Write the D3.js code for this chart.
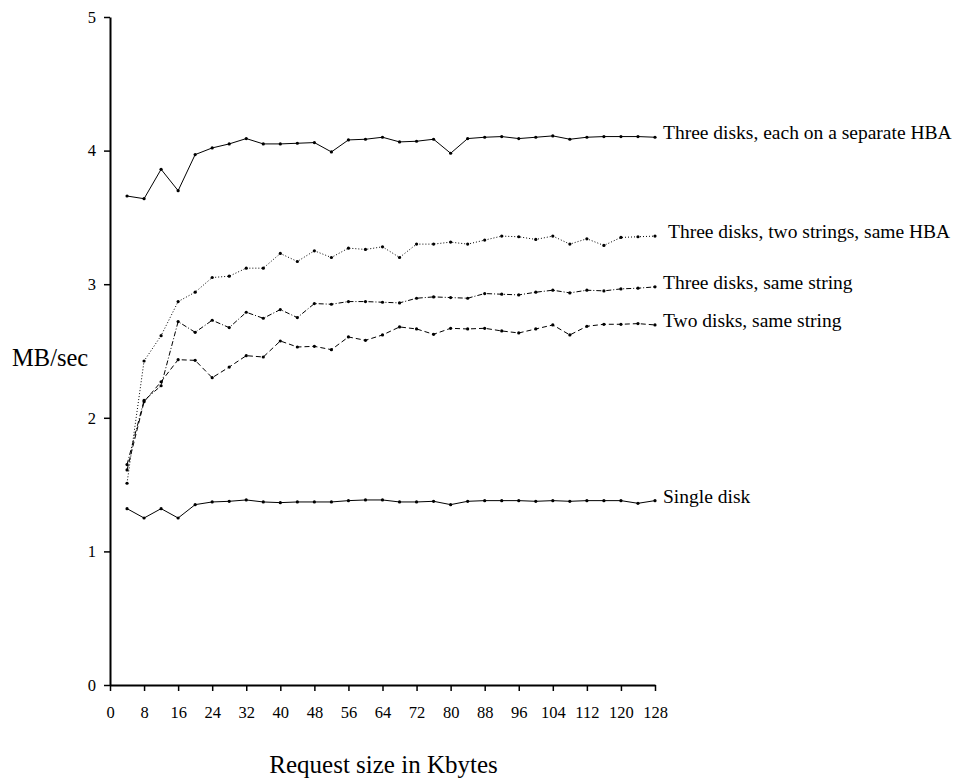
<!DOCTYPE html>
<html>
<head>
<meta charset="utf-8">
<script src="https://cdn.jsdelivr.net/npm/d3@7"></script>
<style>
  body { margin: 0; background: #fff; }
  svg text { font-family: "Liberation Serif", "Times New Roman", serif; fill: #000; }
</style>
</head>
<body>
<div class="chart"></div>
<script>
// Data
const requestSizes = [4, 8, 12, 16, 20, 24, 28, 32, 36, 40, 44, 48, 52, 56, 60, 64,
    68, 72, 76, 80, 84, 88, 92, 96, 100, 104, 108, 112, 116, 120, 124, 128];

const threeSeparateHba = [3.66, 3.64, 3.86, 3.70, 3.97, 4.02, 4.05, 4.09, 4.05, 4.05, 4.055, 4.06,
    3.99, 4.08, 4.085, 4.10, 4.065, 4.07, 4.085, 3.98, 4.09, 4.10, 4.105, 4.09, 4.10, 4.11,
    4.085, 4.10, 4.105, 4.105, 4.105, 4.10];

const threeTwoStrings = [1.51, 2.425, 2.615, 2.87, 2.94, 3.05, 3.06, 3.12, 3.12, 3.23, 3.17, 3.25,
    3.20, 3.27, 3.26, 3.28, 3.20, 3.30, 3.30, 3.315, 3.30, 3.33, 3.36, 3.355, 3.335, 3.36,
    3.30, 3.34, 3.29, 3.35, 3.355, 3.36];

const threeSameString = [1.65, 2.13, 2.24, 2.72, 2.64, 2.73, 2.675, 2.79, 2.745, 2.81, 2.75, 2.855,
    2.85, 2.87, 2.87, 2.865, 2.86, 2.895, 2.905, 2.90, 2.895, 2.93, 2.925, 2.92, 2.94, 2.955,
    2.935, 2.955, 2.95, 2.965, 2.97, 2.98];

const twoSameString = [1.61, 2.12, 2.27, 2.435, 2.43, 2.30, 2.38, 2.465, 2.455, 2.575, 2.53, 2.535,
    2.51, 2.605, 2.58, 2.62, 2.68, 2.665, 2.625, 2.67, 2.665, 2.67, 2.65, 2.635, 2.665, 2.695,
    2.62, 2.685, 2.70, 2.70, 2.705, 2.695];

const singleDisk = [1.32, 1.25, 1.32, 1.25, 1.35, 1.37, 1.375, 1.385, 1.37, 1.365, 1.37, 1.37,
    1.37, 1.38, 1.385, 1.385, 1.37, 1.37, 1.375, 1.35, 1.375, 1.38, 1.38, 1.38, 1.375, 1.38,
    1.375, 1.38, 1.38, 1.38, 1.36, 1.38];

const seriesNames = [
    'Three disks, each on a separate HBA',
    'Three disks, two strings, same HBA',
    'Three disks, same string',
    'Two disks, same string',
    'Single disk'
];

const xTicks = [0, 8, 16, 24, 32, 40, 48, 56, 64, 72, 80, 88, 96, 104, 112, 120, 128];
const yTicks = [0, 1, 2, 3, 4, 5];

// Main
function ready(){
    const series = [
        {name: seriesNames[0], values: threeSeparateHba, dash: null, labelDx: 8},
        {name: seriesNames[1], values: threeTwoStrings, dash: '1,2', labelDx: 13},
        {name: seriesNames[2], values: threeSameString, dash: '5,2,1,2', labelDx: 8},
        {name: seriesNames[3], values: twoSameString, dash: '5,3', labelDx: 8},
        {name: seriesNames[4], values: singleDisk, dash: null, labelDx: 8}
    ];

    const margin = {top: 17, right: 301, bottom: 95, left: 110};
    const width = 956 - margin.left - margin.right;
    const height = 780 - margin.top - margin.bottom;

    const xScale = d3.scaleLinear().domain([0, 128]).range([0, width]);
    const yScale = d3.scaleLinear().domain([0, 5]).range([height, 0]);

    const svg = d3.select('.chart')
        .append('svg')
        .attr('width', 956)
        .attr('height', 780)
        .append('g')
        .attr('transform', `translate(${margin.left}, ${margin.top})`);

    // Axes
    const xAxis = d3.axisBottom(xScale)
        .tickValues(xTicks)
        .tickFormat(d3.format('d'))
        .tickSizeInner(6)
        .tickSizeOuter(0)
        .tickPadding(15);

    const yAxis = d3.axisLeft(yScale)
        .tickValues(yTicks)
        .tickFormat(d3.format('d'))
        .tickSizeInner(6)
        .tickSizeOuter(0)
        .tickPadding(8);

    const xAxisDraw = svg.append('g')
        .attr('class', 'x axis')
        .attr('transform', `translate(0, ${height})`)
        .call(xAxis);

    const yAxisDraw = svg.append('g')
        .attr('class', 'y axis')
        .call(yAxis);

    [xAxisDraw, yAxisDraw].forEach(ax => {
        ax.select('.domain').attr('stroke', '#000').attr('stroke-width', 2);
        ax.selectAll('.tick line').attr('stroke', '#000').attr('stroke-width', 1.5);
        ax.selectAll('.tick text')
            .style('font-family', '"Liberation Serif", "Times New Roman", serif')
            .style('font-size', '16.5px')
            .attr('fill', '#000');
    });

    // Lines
    const line = d3.line()
        .x((d, i) => xScale(requestSizes[i]))
        .y(d => yScale(d));

    const groups = svg.append('g')
        .attr('class', 'series')
        .selectAll('g')
        .data(series)
        .enter()
        .append('g');

    groups.append('path')
        .attr('d', d => line(d.values))
        .attr('fill', 'none')
        .attr('stroke', '#000')
        .attr('stroke-width', 1)
        .attr('stroke-dasharray', d => d.dash);

    groups.selectAll('circle')
        .data(d => d.values)
        .enter()
        .append('circle')
        .attr('cx', (d, i) => xScale(requestSizes[i]))
        .attr('cy', d => yScale(d))
        .attr('r', 1.6)
        .attr('fill', '#000');

    groups.append('text')
        .attr('x', d => xScale(requestSizes[requestSizes.length - 1]) + d.labelDx)
        .attr('y', d => yScale(d.values[d.values.length - 1]))
        .attr('dy', '0.1em')
        .style('font-size', '19.5px')
        .text(d => d.name);

    // Axis titles
    svg.append('text')
        .attr('x', -margin.left + 12)
        .attr('y', yScale(2.39))
        .style('font-size', '24.5px')
        .text('MB/sec');

    svg.append('text')
        .attr('x', width / 2 + 1)
        .attr('y', height + 88)
        .attr('text-anchor', 'middle')
        .style('font-size', '25px')
        .text('Request size in Kbytes');
}

ready();
</script>
</body>
</html>
